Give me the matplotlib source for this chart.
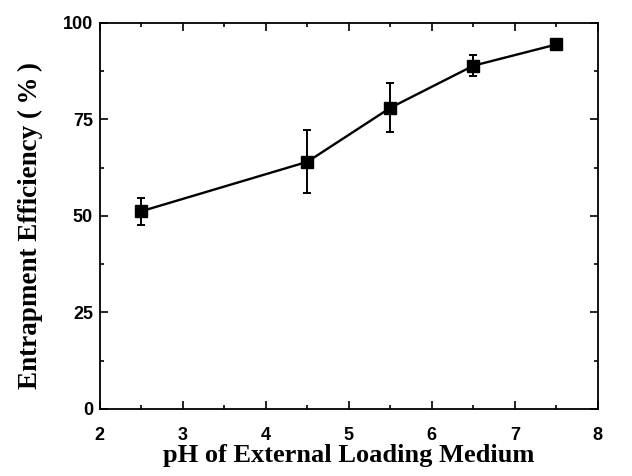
import matplotlib
matplotlib.use("Agg")
import matplotlib.pyplot as plt
from matplotlib.ticker import MultipleLocator

# pH of external loading medium vs entrapment efficiency
ph = [2.5, 4.5, 5.5, 6.5, 7.5]
efficiency = [51.2, 64.0, 78.0, 88.9, 94.4]
err = [3.5, 8.2, 6.4, 2.7, 1.0]

fig = plt.figure(figsize=(6.32, 4.76), dpi=100)
ax = fig.add_axes([0.158, 0.141, 0.788, 0.811])

ax.errorbar(ph, efficiency, yerr=err, color='black', marker='s', markersize=8.5,
            linewidth=1.7, elinewidth=1.4, capsize=3, capthick=1.4)

ax.set_xlim(2, 8)
ax.set_ylim(0, 100)
ax.xaxis.set_major_locator(MultipleLocator(1))
ax.xaxis.set_minor_locator(MultipleLocator(0.5))
ax.yaxis.set_major_locator(MultipleLocator(25))
ax.yaxis.set_minor_locator(MultipleLocator(12.5))
ax.tick_params(which='both', direction='in', top=True, right=True, width=1.2)
ax.tick_params(which='major', length=6, labelsize=13, pad=5)
ax.tick_params(axis='x', which='major', pad=13)
ax.tick_params(which='minor', length=3)
for lab in ax.get_xticklabels() + ax.get_yticklabels():
    lab.set_fontfamily('Liberation Sans')
    lab.set_fontweight('bold')
for s in ax.spines.values():
    s.set_linewidth(1.3)

ax.set_xlabel('pH of External Loading Medium', fontsize=19, fontweight='bold',
              family='Liberation Serif', labelpad=0)
ax.set_ylabel('Entrapment Efficiency (\u2009%\u2009)', fontsize=19.5, fontweight='bold',
              family=['Liberation Serif', 'DejaVu Serif'])
ax.yaxis.set_label_coords(-0.115, 0.475)

fig.savefig('out.png', dpi=100)
